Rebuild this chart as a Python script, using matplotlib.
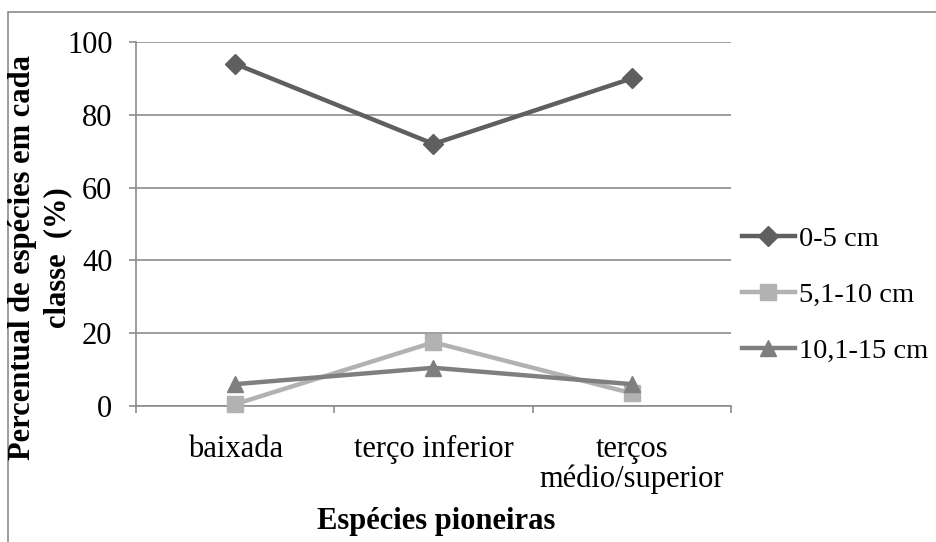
import matplotlib.pyplot as plt
from matplotlib.patches import Rectangle

plt.rcParams['font.family'] = ['Liberation Serif', 'DejaVu Serif']

categories = ["baixada", "terço inferior", "terços\nmédio/superior"]
series_names = ["0-5 cm", "5,1-10 cm", "10,1-15 cm"]
v_0_5 = [94, 72, 90]
v_5_10 = [0.5, 17.5, 3.5]
v_10_15 = [6, 10.5, 6]

colors = ["#5f5f5f", "#b2b2b2", "#7f7f7f"]
markers = ["D", "s", "^"]
msizes = [10, 11, 11]
FS = 22

fig = plt.figure(figsize=(9.37, 5.42), dpi=100)
fig.patches.append(Rectangle((8 / 937, -0.1), 2, 1 - 12 / 542 + 0.1,
                             transform=fig.transFigure, fill=False,
                             edgecolor="#8c8c8c", linewidth=1.2))

ax = fig.add_axes([136 / 937, 1 - 406 / 542, 595 / 937, 364 / 542])
x = range(len(categories))
for vals, name, c, m, ms in zip([v_0_5, v_5_10, v_10_15], series_names, colors, markers, msizes):
    ax.plot(x, vals, color=c, linewidth=3.2, marker=m, markersize=ms,
            markeredgecolor=c, label=name, clip_on=False, zorder=3)

ax.set_xlim(-0.5, 2.5)
ax.set_ylim(0, 100)
ax.set_yticks(range(0, 101, 20))
ax.yaxis.grid(True, color="#8c8c8c", linewidth=1.2)
ax.set_axisbelow(True)
ax.set_xticks([-0.5, 0.5, 1.5, 2.5])
ax.set_xticklabels([])
ax.set_xticks(list(x), minor=True)
ax.set_xticklabels(categories, minor=True, fontsize=FS, linespacing=1.0)
ax.tick_params(axis="x", which="minor", length=0, pad=21)
ax.tick_params(axis="x", which="major", length=5, color="#8c8c8c", width=1.2)
ax.tick_params(axis="y", length=5, color="#8c8c8c", width=1.2, labelsize=FS, pad=12)
for s in ["top", "right"]:
    ax.spines[s].set_visible(False)
for s in ["left", "bottom"]:
    ax.spines[s].set_color("#8c8c8c")
    ax.spines[s].set_linewidth(1.2)

fig.text(436 / 937, 1 - 521 / 542, "Espécies pioneiras", ha="center", va="center",
         fontsize=FS, fontweight="bold")
fig.text(40 / 937, 1 - 258 / 542, "Percentual de espécies em cada\nclasse  (%)",
         ha="center", va="center", rotation=90, fontsize=FS, fontweight="bold",
         linespacing=1.3)

ax.legend(loc="center left", bbox_to_anchor=(742 / 937, 1 - 295 / 542),
          bbox_transform=fig.transFigure, frameon=False, fontsize=20.5,
          handlelength=1.85, handletextpad=0.15, labelspacing=1.07, borderpad=0,
          borderaxespad=0)

fig.savefig("out.png", dpi=100)
